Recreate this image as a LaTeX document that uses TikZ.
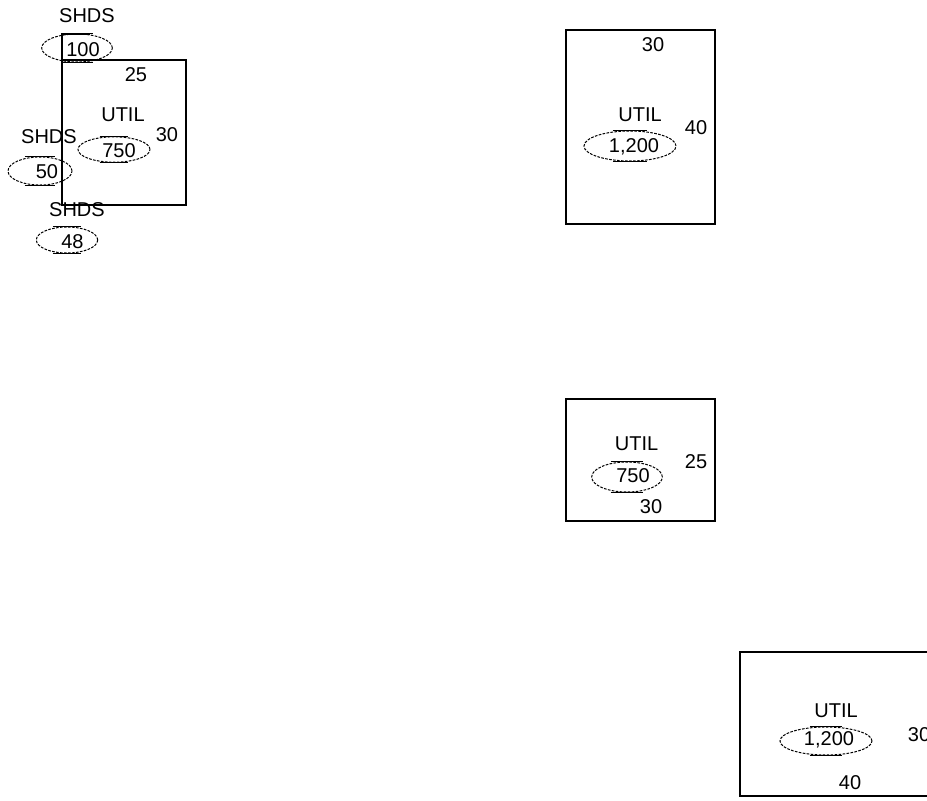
\documentclass[tikz,border=0pt]{standalone}
\usepackage{fontspec}
\setmainfont{Liberation Sans}
\usetikzlibrary{shapes.geometric}
\begin{document}
\begin{tikzpicture}[x=0.75pt,y=-0.75pt,
  lbl/.style={inner sep=0pt,font=\fontsize{15}{17}\selectfont},
  boxst/.style={draw,line width=0.9pt},
  ovl/.style={draw,ellipse,inner sep=0pt,line width=0.75pt,dash pattern=on 2pt off 1pt},
]
\useasboundingbox (0,0) rectangle (927,800);
\clip (0,0) rectangle (927,800);
% ---------- group 1 (top left)
\draw[boxst] (62,60) rectangle (186,205);
\draw[boxst] (62,60) -- (62,34) -- (90,34);
\node[lbl] (s1) at (87,15.5) {SHDS};
\node[ovl,minimum width=53pt,minimum height=21pt] (e1) at (77,48) {};
\node[lbl] (n1) at (83,50) {100};
\node[lbl] (t1) at (136,74.5) {25};
\node[lbl] (u1) at (123,115) {UTIL};
\node[ovl,minimum width=54pt,minimum height=19pt] (e2) at (114,149.5) {};
\node[lbl] (n2) at (119,151) {750};
\node[lbl] (r1) at (167,134.5) {30};
\node[lbl] (s2) at (49,136.5) {SHDS};
\node[ovl,minimum width=48pt,minimum height=21pt] (e3) at (40,171) {};
\node[lbl] (n3) at (47,171.5) {50};
\node[lbl] (s3) at (77,210) {SHDS};
\node[ovl,minimum width=46pt,minimum height=19.5pt] (e4) at (67,240) {};
\node[lbl] (n4) at (72.5,242) {48};
% ---------- group 2
\draw[boxst] (566,30) rectangle (715,224);
\node[lbl] (t2) at (653,45) {30};
\node[lbl] (u2) at (640,115) {UTIL};
\node[ovl,minimum width=69pt,minimum height=22.5pt] (e5) at (630,146) {};
\node[lbl] (n5) at (634,147) {1,200};
\node[lbl] (r2) at (696,128) {40};
% ---------- group 3
\draw[boxst] (566,399) rectangle (715,521);
\node[lbl] (u3) at (636.5,444) {UTIL};
\node[ovl,minimum width=53pt,minimum height=22.5pt] (e6) at (627,477) {};
\node[lbl] (n6) at (633,476) {750};
\node[lbl] (r3) at (696,462) {25};
\node[lbl] (b3) at (651,507) {30};
% ---------- group 4
\draw[boxst] (740,652) rectangle (945,796);
\node[lbl] (u4) at (836,711) {UTIL};
\node[ovl,minimum width=69pt,minimum height=21pt] (e7) at (826,741) {};
\node[lbl] (n7) at (829,740) {1,200};
\node[lbl] (r4) at (919,735) {30};
\node[lbl] (b4) at (850,783) {40};
% solid top/bottom strokes of the ovals
\foreach \e in {e1,e2,e3,e4,e5,e6,e7}{
  \draw[line width=0.8pt] (\e.north -| \e.140) -- (\e.north -| \e.40);
  \draw[line width=0.8pt] (\e.south -| \e.220) -- (\e.south -| \e.320);
}
\end{tikzpicture}
\end{document}
